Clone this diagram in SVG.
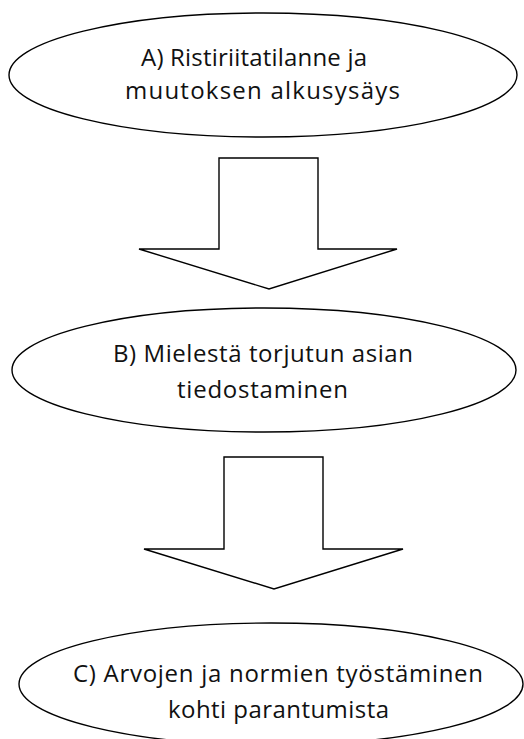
<svg xmlns="http://www.w3.org/2000/svg" width="524" height="739" viewBox="0 0 524 739">
<style>
.node{fill:#fff;stroke:#000;stroke-width:1.4}
.arrow{fill:#fff;stroke:#000;stroke-width:1.4;stroke-linejoin:miter}
.lbl{font-family:"Open Sans","Noto Sans",sans-serif;font-size:24px;fill:#111}
</style>
<rect width="524" height="739" fill="#fff"/>
<g id="connectors">
<polygon class="arrow" points="219,158 318,158 318,249 397,249 269,289 139,249 219,249"/>
<polygon class="arrow" points="224,457 323,457 323,549 403,549 274,589 144,549 224,549"/>
</g>
<g id="nodeA">
<ellipse class="node" cx="263" cy="75" rx="254" ry="62"/>
<text class="lbl" x="141" y="66" textLength="226" lengthAdjust="spacing">A) Ristiriitatilanne ja</text>
<text class="lbl" x="125" y="99" textLength="275" lengthAdjust="spacing">muutoksen alkusysäys</text>
</g>
<g id="nodeB">
<ellipse class="node" cx="264" cy="370" rx="252" ry="62"/>
<text class="lbl" x="113" y="362" textLength="300" lengthAdjust="spacing">B) Mielestä torjutun asian</text>
<text class="lbl" x="177" y="398" textLength="171" lengthAdjust="spacing">tiedostaminen</text>
</g>
<g id="nodeC">
<ellipse class="node" cx="271" cy="684" rx="252" ry="61"/>
<text class="lbl" x="73" y="682" textLength="410" lengthAdjust="spacing">C) Arvojen ja normien työstäminen</text>
<text class="lbl" x="168" y="718" textLength="221" lengthAdjust="spacing">kohti parantumista</text>
</g>
</svg>
